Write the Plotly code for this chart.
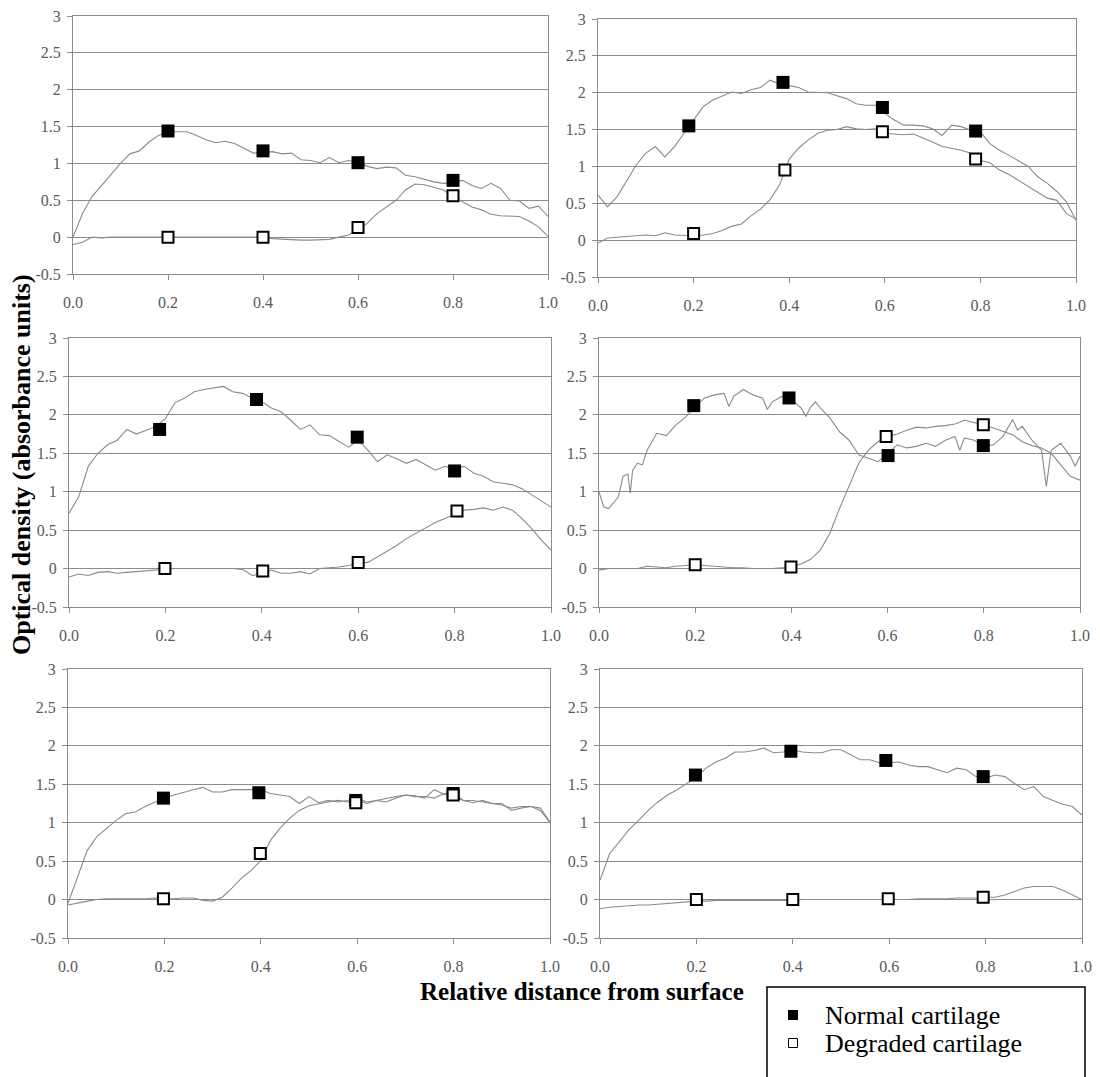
import plotly.graph_objects as go

W, H = 1100, 1077
FONT = "Liberation Serif, 'Times New Roman', serif"

X_GRID = [0.00, 0.02, 0.04, 0.06, 0.08, 0.10, 0.12, 0.14, 0.16, 0.18,
          0.20, 0.22, 0.24, 0.26, 0.28, 0.30, 0.32, 0.34, 0.36, 0.38,
          0.40, 0.42, 0.44, 0.46, 0.48, 0.50, 0.52, 0.54, 0.56, 0.58,
          0.60, 0.62, 0.64, 0.66, 0.68, 0.70, 0.72, 0.74, 0.76, 0.78,
          0.80, 0.82, 0.84, 0.86, 0.88, 0.90, 0.92, 0.94, 0.96, 0.98, 1.00]

X_TICKS = [0.0, 0.2, 0.4, 0.6, 0.8, 1.0]
X_TICK_TEXT = ["0.0", "0.2", "0.4", "0.6", "0.8", "1.0"]
Y_TICKS = [-0.5, 0, 0.5, 1, 1.5, 2, 2.5, 3]
Y_TICK_TEXT = ["-0.5", "0", "0.5", "1", "1.5", "2", "2.5", "3"]

# ---- Panel 1 (top left)
P1_NORMAL = [0.00, 0.32, 0.55, 0.70, 0.86, 1.00, 1.13, 1.17, 1.29, 1.38,
             1.43, 1.43, 1.43, 1.38, 1.32, 1.28, 1.30, 1.27, 1.20, 1.14,
             1.15, 1.16, 1.13, 1.14, 1.05, 1.04, 1.01, 1.08, 1.01, 1.04,
             1.01, 0.96, 0.93, 0.95, 0.94, 0.84, 0.82, 0.78, 0.75, 0.73,
             0.74, 0.77, 0.70, 0.66, 0.73, 0.66, 0.50, 0.49, 0.39, 0.42, 0.28]
P1_DEGRADED = [-0.10, -0.07, 0.00, -0.01, 0.00, 0.00, 0.00, 0.01, 0.00, 0.00,
               0.00, 0.00, 0.00, 0.01, 0.00, 0.00, 0.00, 0.00, 0.00, 0.00,
               0.00, -0.02, -0.03, -0.03, -0.04, -0.04, -0.04, -0.03, 0.00, 0.03,
               0.10, 0.19, 0.32, 0.41, 0.50, 0.64, 0.72, 0.71, 0.68, 0.64,
               0.55, 0.48, 0.41, 0.37, 0.31, 0.29, 0.28, 0.28, 0.22, 0.14, 0.01]
P1_NM_X = [0.200, 0.400, 0.600, 0.800]
P1_NM_Y = [1.44, 1.17, 1.01, 0.77]
P1_DM_X = [0.200, 0.400, 0.600, 0.800]
P1_DM_Y = [0.00, 0.00, 0.13, 0.56]

# ---- Panel 2 (top right)
P2_NORMAL = [0.61, 0.45, 0.59, 0.81, 1.02, 1.18, 1.27, 1.13, 1.27, 1.45,
             1.63, 1.81, 1.90, 1.96, 2.01, 1.99, 2.04, 2.07, 2.17, 2.12,
             2.10, 2.07, 2.01, 2.00, 2.00, 1.96, 1.92, 1.85, 1.83, 1.83,
             1.72, 1.63, 1.56, 1.56, 1.55, 1.51, 1.42, 1.56, 1.54, 1.49,
             1.47, 1.31, 1.22, 1.15, 1.08, 1.00, 0.86, 0.77, 0.66, 0.52, 0.27]
P2_DEGRADED = [-0.04, 0.03, 0.04, 0.05, 0.06, 0.07, 0.06, 0.10, 0.07, 0.06,
               0.06, 0.07, 0.09, 0.13, 0.19, 0.22, 0.33, 0.42, 0.55, 0.75,
               1.10, 1.25, 1.36, 1.45, 1.49, 1.50, 1.54, 1.51, 1.50, 1.51,
               1.45, 1.44, 1.43, 1.44, 1.39, 1.33, 1.27, 1.25, 1.22, 1.18,
               1.08, 1.05, 0.95, 0.89, 0.81, 0.72, 0.64, 0.57, 0.54, 0.36, 0.29]
P2_NM_X = [0.190, 0.387, 0.595, 0.790]
P2_NM_Y = [1.55, 2.14, 1.80, 1.48]
P2_DM_X = [0.200, 0.391, 0.595, 0.790]
P2_DM_Y = [0.09, 0.95, 1.47, 1.10]

# ---- Panel 3 (middle left)
P3_NORMAL = [0.72, 0.93, 1.33, 1.50, 1.61, 1.67, 1.81, 1.75, 1.80, 1.85,
             1.95, 2.16, 2.22, 2.30, 2.33, 2.35, 2.37, 2.30, 2.28, 2.22,
             2.17, 2.09, 2.04, 1.93, 1.81, 1.87, 1.74, 1.73, 1.65, 1.58,
             1.67, 1.54, 1.39, 1.48, 1.43, 1.37, 1.42, 1.35, 1.28, 1.33,
             1.30, 1.33, 1.24, 1.20, 1.13, 1.11, 1.09, 1.04, 0.96, 0.87, 0.80]
P3_DEGRADED = [-0.11, -0.07, -0.09, -0.05, -0.04, -0.06, -0.05, -0.04, -0.03, -0.02,
               -0.01, 0.00, 0.00, 0.00, 0.00, 0.00, 0.00, 0.00, -0.01, -0.09,
               -0.07, -0.02, -0.06, -0.06, -0.04, -0.07, 0.00, 0.01, 0.02, 0.04,
               0.07, 0.08, 0.15, 0.22, 0.30, 0.39, 0.46, 0.54, 0.60, 0.65,
               0.70, 0.76, 0.77, 0.79, 0.76, 0.80, 0.76, 0.65, 0.52, 0.37, 0.24]
P3_NM_X = [0.188, 0.389, 0.598, 0.800]
P3_NM_Y = [1.81, 2.20, 1.71, 1.27]
P3_DM_X = [0.199, 0.402, 0.600, 0.805]
P3_DM_Y = [0.00, -0.03, 0.08, 0.75]

# ---- Panel 4 (middle right)
P4_NORMAL_X = [0.00, 0.01, 0.02, 0.03, 0.04, 0.05, 0.06, 0.065, 0.07, 0.08,
               0.09, 0.10, 0.12, 0.14, 0.16, 0.18, 0.20, 0.22, 0.24, 0.26,
               0.27, 0.28, 0.30, 0.32, 0.34, 0.35, 0.36, 0.38, 0.40, 0.42,
               0.43, 0.44, 0.45, 0.46, 0.48, 0.50, 0.52, 0.54, 0.56, 0.58,
               0.60, 0.62, 0.64, 0.66, 0.68, 0.70, 0.72, 0.74, 0.75, 0.76,
               0.78, 0.80, 0.82, 0.84, 0.86, 0.87, 0.88, 0.90, 0.92, 0.93,
               0.94, 0.96, 0.98, 0.99, 1.00]
P4_NORMAL = [1.00, 0.80, 0.78, 0.85, 0.93, 1.20, 1.23, 0.98, 1.28, 1.37,
             1.35, 1.54, 1.76, 1.73, 1.87, 1.97, 2.11, 2.22, 2.26, 2.28,
             2.11, 2.24, 2.33, 2.26, 2.22, 2.07, 2.17, 2.24, 2.20, 2.09,
             1.98, 2.10, 2.17, 2.09, 1.96, 1.78, 1.67, 1.48, 1.43, 1.39,
             1.50, 1.61, 1.57, 1.59, 1.63, 1.59, 1.67, 1.72, 1.54, 1.70,
             1.67, 1.59, 1.61, 1.72, 1.94, 1.80, 1.85, 1.67, 1.54, 1.07,
             1.54, 1.63, 1.46, 1.33, 1.46]
P4_DEGRADED = [-0.02, 0.00, 0.00, 0.00, 0.00, 0.03, 0.02, 0.01, 0.03, 0.04,
               0.05, 0.04, 0.03, 0.02, 0.01, 0.01, 0.00, 0.00, 0.00, 0.01,
               0.02, 0.06, 0.12, 0.24, 0.46, 0.78, 1.07, 1.37, 1.54, 1.65,
               1.72, 1.75, 1.80, 1.84, 1.83, 1.85, 1.86, 1.88, 1.93, 1.90,
               1.87, 1.83, 1.78, 1.74, 1.65, 1.60, 1.57, 1.50, 1.35, 1.20, 1.15]
P4_NM_X = [0.197, 0.395, 0.601, 0.799]
P4_NM_Y = [2.12, 2.22, 1.47, 1.60]
P4_DM_X = [0.200, 0.399, 0.597, 0.799]
P4_DM_Y = [0.05, 0.02, 1.72, 1.87]

# ---- Panel 5 (bottom left)
P5_NORMAL = [-0.05, 0.30, 0.64, 0.82, 0.93, 1.03, 1.12, 1.14, 1.21, 1.27,
             1.32, 1.36, 1.40, 1.43, 1.46, 1.40, 1.40, 1.43, 1.43, 1.43,
             1.43, 1.38, 1.36, 1.34, 1.25, 1.34, 1.26, 1.29, 1.27, 1.29,
             1.32, 1.27, 1.29, 1.32, 1.34, 1.36, 1.35, 1.32, 1.43, 1.37,
             1.34, 1.29, 1.26, 1.29, 1.25, 1.23, 1.19, 1.21, 1.21, 1.19, 1.01]
P5_DEGRADED = [-0.07, -0.04, -0.02, 0.00, 0.01, 0.01, 0.01, 0.01, 0.01, 0.02,
               0.01, 0.01, 0.02, 0.02, -0.01, -0.02, 0.03, 0.15, 0.28, 0.38,
               0.51, 0.77, 0.93, 1.06, 1.16, 1.22, 1.25, 1.27, 1.29, 1.27,
               1.29, 1.25, 1.29, 1.27, 1.32, 1.36, 1.34, 1.34, 1.32, 1.38,
               1.39, 1.29, 1.29, 1.27, 1.25, 1.25, 1.16, 1.19, 1.21, 1.16, 1.00]
P5_NM_X = [0.198, 0.396, 0.597, 0.799]
P5_NM_Y = [1.32, 1.39, 1.29, 1.38]
P5_DM_X = [0.198, 0.399, 0.597, 0.799]
P5_DM_Y = [0.01, 0.60, 1.26, 1.36]

# ---- Panel 6 (bottom right)
P6_NORMAL = [0.25, 0.60, 0.75, 0.91, 1.03, 1.16, 1.27, 1.36, 1.43, 1.51,
             1.59, 1.71, 1.79, 1.84, 1.92, 1.92, 1.94, 1.97, 1.91, 1.92,
             1.95, 1.92, 1.91, 1.91, 1.95, 1.95, 1.88, 1.82, 1.82, 1.78,
             1.78, 1.79, 1.75, 1.73, 1.73, 1.69, 1.65, 1.71, 1.69, 1.60,
             1.58, 1.62, 1.60, 1.51, 1.43, 1.47, 1.34, 1.29, 1.24, 1.21, 1.10]
P6_DEGRADED = [-0.12, -0.10, -0.09, -0.08, -0.07, -0.07, -0.06, -0.05, -0.04, -0.03,
               -0.02, -0.02, -0.01, -0.01, -0.01, -0.01, -0.01, -0.01, -0.01, -0.01,
               -0.01, 0.00, 0.00, 0.00, 0.00, 0.00, 0.00, 0.00, 0.00, 0.00,
               0.00, 0.00, 0.00, 0.01, 0.01, 0.01, 0.01, 0.02, 0.02, 0.02,
               0.03, 0.03, 0.06, 0.10, 0.15, 0.17, 0.17, 0.17, 0.12, 0.06, 0.00]
P6_NM_X = [0.198, 0.396, 0.593, 0.795]
P6_NM_Y = [1.62, 1.93, 1.81, 1.60]
P6_DM_X = [0.200, 0.400, 0.598, 0.795]
P6_DM_Y = [0.00, 0.00, 0.01, 0.03]

LEGEND_LABELS = ["Normal cartilage", "Degraded cartilage"]

# Panel pixel rectangles (left, right, top, bottom)
RECTS = [(73, 548, 16, 274), (598, 1076, 19, 277),
         (69, 551, 338, 607), (599, 1080, 338, 607),
         (68, 550, 669, 938), (600, 1082, 669, 938)]

PANELS = [
    (X_GRID, P1_NORMAL, X_GRID, P1_DEGRADED, P1_NM_X, P1_NM_Y, P1_DM_X, P1_DM_Y),
    (X_GRID, P2_NORMAL, X_GRID, P2_DEGRADED, P2_NM_X, P2_NM_Y, P2_DM_X, P2_DM_Y),
    (X_GRID, P3_NORMAL, X_GRID, P3_DEGRADED, P3_NM_X, P3_NM_Y, P3_DM_X, P3_DM_Y),
    (P4_NORMAL_X, P4_NORMAL, X_GRID, P4_DEGRADED, P4_NM_X, P4_NM_Y, P4_DM_X, P4_DM_Y),
    (X_GRID, P5_NORMAL, X_GRID, P5_DEGRADED, P5_NM_X, P5_NM_Y, P5_DM_X, P5_DM_Y),
    (X_GRID, P6_NORMAL, X_GRID, P6_DEGRADED, P6_NM_X, P6_NM_Y, P6_DM_X, P6_DM_Y),
]

LINE_COLOR = "#8a8a8a"
GRID_COLOR = "#8c8c8c"
TICK_COLOR = "#5a5a5a"


def px(x):
    return x / W


def py(y):
    return 1 - y / H


fig = go.Figure()
layout = dict(width=W, height=H, margin=dict(l=0, r=0, t=0, b=0, autoexpand=False),
              paper_bgcolor="white", plot_bgcolor="white", showlegend=False,
              font=dict(family=FONT, color="black"))

for i, (rect, data) in enumerate(zip(RECTS, PANELS)):
    n = "" if i == 0 else str(i + 1)
    xa, ya = "x" + n, "y" + n
    l, r, t, b = rect
    nx, ny, dx, dy, nmx, nmy, dmx, dmy = data
    fig.add_trace(go.Scatter(x=nx, y=ny, mode="lines", xaxis=xa, yaxis=ya,
                             line=dict(color=LINE_COLOR, width=1.1)))
    fig.add_trace(go.Scatter(x=dx, y=dy, mode="lines", xaxis=xa, yaxis=ya,
                             line=dict(color=LINE_COLOR, width=1.1)))
    fig.add_trace(go.Scatter(x=nmx, y=nmy, mode="markers", xaxis=xa, yaxis=ya,
                             name=LEGEND_LABELS[0],
                             marker=dict(symbol="square", size=13, color="black",
                                         line=dict(width=0))))
    fig.add_trace(go.Scatter(x=dmx, y=dmy, mode="markers", xaxis=xa, yaxis=ya,
                             name=LEGEND_LABELS[1],
                             marker=dict(symbol="square", size=11, color="white",
                                         line=dict(width=2, color="black"))))
    layout["xaxis" + n] = dict(
        domain=[px(l), px(r)], anchor=ya, range=[0, 1],
        tickvals=X_TICKS, ticktext=X_TICK_TEXT, ticks="outside", ticklen=5,
        tickcolor=GRID_COLOR, showline=True, linecolor=GRID_COLOR, linewidth=1,
        mirror=True, showgrid=False, zeroline=False, ticklabelstandoff=9,
        tickfont=dict(family=FONT, size=16, color=TICK_COLOR))
    layout["yaxis" + n] = dict(
        domain=[py(b), py(t)], anchor=xa, range=[-0.5, 3],
        tickvals=Y_TICKS, ticktext=Y_TICK_TEXT, ticks="outside", ticklen=5,
        tickcolor=GRID_COLOR, showline=True, linecolor=GRID_COLOR, linewidth=1,
        mirror=True, showgrid=True, gridcolor=GRID_COLOR, gridwidth=1,
        zeroline=False, ticklabelstandoff=3,
        tickfont=dict(family=FONT, size=16, color=TICK_COLOR))

# Legend drawn as a box with two symbols and labels
layout["shapes"] = [
    dict(type="rect", xref="paper", yref="paper",
         x0=px(767), x1=px(1085), y0=py(1100), y1=py(987),
         line=dict(color="black", width=1.5), fillcolor="rgba(0,0,0,0)"),
    dict(type="rect", xref="paper", yref="paper",
         x0=px(788), x1=px(798), y0=py(1020), y1=py(1010),
         line=dict(width=0), fillcolor="black"),
    dict(type="rect", xref="paper", yref="paper",
         x0=px(788.5), x1=px(797.5), y0=py(1047.5), y1=py(1038.5),
         line=dict(width=1, color="black"), fillcolor="white"),
]

layout["annotations"] = [
    dict(text="<b>Optical density (absorbance units)</b>", xref="paper", yref="paper",
         x=px(22), y=py(465), textangle=-90, showarrow=False,
         xanchor="center", yanchor="middle", font=dict(family=FONT, size=26, color="black")),
    dict(text="<b>Relative distance from surface</b>", xref="paper", yref="paper",
         x=px(582), y=py(991), showarrow=False, borderpad=0,
         xanchor="center", yanchor="middle", font=dict(family=FONT, size=25, color="black")),
    dict(text=LEGEND_LABELS[0], xref="paper", yref="paper", x=px(823), y=py(1015),
         showarrow=False, xanchor="left", yanchor="middle",
         font=dict(family=FONT, size=26, color="black")),
    dict(text=LEGEND_LABELS[1], xref="paper", yref="paper", x=px(823), y=py(1043),
         showarrow=False, xanchor="left", yanchor="middle",
         font=dict(family=FONT, size=26, color="black")),
]

fig.update_layout(**layout)
fig.write_html("out.html")
